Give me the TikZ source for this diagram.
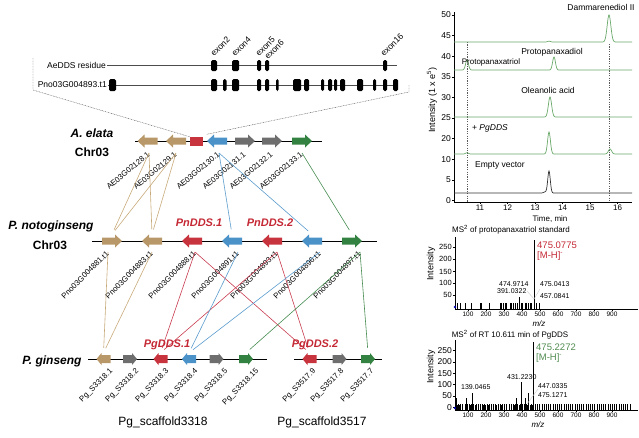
\documentclass[tikz,border=0pt]{standalone}
\usepackage{fontspec}
\setmainfont{Liberation Sans}
\usetikzlibrary{calc}

\definecolor{tanfill}{RGB}{184,152,104}
\definecolor{redfill}{RGB}{200,52,62}
\definecolor{bluefill}{RGB}{74,146,200}
\definecolor{grayfill}{RGB}{110,110,110}
\definecolor{greenfill}{RGB}{52,130,66}
\definecolor{tanlink}{RGB}{200,170,122}
\definecolor{bluelink}{RGB}{90,155,205}
\definecolor{redlink}{RGB}{200,60,80}
\definecolor{greenlink}{RGB}{70,140,80}
\definecolor{ddsred}{RGB}{196,40,52}
\definecolor{mhgreen}{RGB}{80,140,80}
\definecolor{trace}{RGB}{105,168,105}

\newcommand\fsz[1]{\fontsize{#1}{#1}\selectfont}
\newcommand\pk[3]{(#3)*exp(max(-8,-((\x-(#1))/(#2))^2))}

\begin{document}
\begin{tikzpicture}[x=1pt, y=-1pt,
    gene/.style={inner sep=0pt, minimum width=20pt, minimum height=13pt},
    rgene/.style={gene, path picture={\fill[#1, shift={(path picture bounding box.center)}]
        (-10,-3.5) -- (3,-3.5) -- (3,-6.5) -- (10,0) -- (3,6.5) -- (3,3.5) -- (-10,3.5) -- cycle;}},
    lgene/.style={gene, path picture={\fill[#1, shift={(path picture bounding box.center)}]
        (10,-3.5) -- (-3,-3.5) -- (-3,-6.5) -- (-10,0) -- (-3,6.5) -- (-3,3.5) -- (10,3.5) -- cycle;}},
    sgene/.style={inner sep=0pt, minimum width=14pt, minimum height=12pt},
    srgene/.style={sgene, path picture={\fill[#1, shift={(path picture bounding box.center)}]
        (-7,-4) -- (2,-4) -- (2,-6) -- (7,0) -- (2,6) -- (2,4) -- (-7,4) -- cycle;}},
    slgene/.style={sgene, path picture={\fill[#1, shift={(path picture bounding box.center)}]
        (7,-4) -- (-2,-4) -- (-2,-6) -- (-7,0) -- (-2,6) -- (-2,4) -- (7,4) -- cycle;}},
    glabel/.style={font=\fsz{7.8}, rotate=45, anchor=east, inner sep=0.5pt},
    species/.style={font=\fsz{12}\bfseries\itshape},
    chrname/.style={font=\fsz{12}\bfseries},
    ddsname/.style={font=\fsz{11}\bfseries\itshape, text=ddsred},
    chrom/.style={line width=0.8pt},
    link/.style={line width=0.6pt, shorten >=5pt},
    exon/.style={fill=black, rounded corners=1.5pt},
    bracket/.style={gray!60!black, dash pattern=on 0.8pt off 0.8pt},
    axisl/.style={line width=0.5pt},
    ytick/.style={left, inner sep=1pt, font=\fsz{7.5}},
    xtick/.style={below, inner sep=1pt, font=\fsz{6.5}},
    bar/.style={line width=0.55pt},
    note/.style={anchor=west, inner sep=0pt, font=\fsz{7}},
  ]
\useasboundingbox (0,0) rectangle (639,437);
% gene structure
\node[font=\fsz{8.5}, anchor=east, inner sep=1pt] (aedds) at (107,65) {AeDDS residue};
\draw[gray!60!black] (aedds.east) -- (397,65);
\node[font=\fsz{8.5}, anchor=east, inner sep=1pt] (pno) at (108,85) {Pno03G004893.t1};
\draw[gray!60!black] (pno.east) -- (398,85);
\foreach \a/\b in {211/217, 232/239, 257/261, 265/269, 383/387}
  \fill[exon] (\a,60) rectangle (\b,71);
\foreach \a/\b in {109/116, 211/217, 223/226.5, 232/239, 257/261, 265/269, 276/278.5,
    293/301, 304/309, 321/324, 328/332, 334/337, 340/345, 357/363, 373/376, 383/387, 393/398}
  \fill[exon] (\a,79) rectangle (\b,91);
\foreach \n/\x/\y in {2/212/55, 4/233/55, 5/257/55, 6/266/58, 16/382/55}
  \node[font=\fsz{8.5}, rotate=45, anchor=west, inner sep=0pt] at (\x,\y) {exon\n};

% A. elata
\node[species] at (92,133) {A. elata};
\node[chrname] at (92,152) {Chr03};
\draw[chrom] (135,141) -- (322,141);
\node[lgene=tanfill] (ae1) at (147.5,141) {};
\node[lgene=tanfill] (ae2) at (176,141) {};
\node[fill=redfill, inner sep=0pt, minimum width=13pt, minimum height=9pt] (ae3) at (196.5,141.5) {};
\node[lgene=bluefill] (ae4) at (217,141) {};
\node[rgene=grayfill] (ae5) at (245,141) {};
\node[rgene=grayfill] (ae6) at (272,141) {};
\node[rgene=greenfill] (ae7) at (302,141) {};
\foreach \g/\x/\t in {ae1/149/AE03G02128.1, ae2/176/AE03G02129.1, ae4/219/AE03G02130.1,
    ae5/245/AE03G02131.1, ae6/272/AE03G02132.1, ae7/302/AE03G02133.1}
  \node[glabel, rotate=-5] (t\g) at (\x,153) {\t};
\draw[bracket] (33,58) -- (33,90) -- (ae3.north west);
\draw[bracket] (409,85) -- (409,92) -- (ae4.north west);

% P. notoginseng
\node[species] at (51,226) {P. notoginseng};
\node[chrname] at (50,245) {Chr03};
\draw[chrom] (92,241) -- (377,241);
\node[rgene=tanfill] (pn1) at (112,241) {};
\node[lgene=tanfill] (pn2) at (152,241) {};
\node[lgene=redfill] (pn3) at (192,241) {};
\node[lgene=bluefill] (pn4) at (232,241) {};
\node[lgene=redfill] (pn5) at (272,241) {};
\node[lgene=bluefill] (pn6) at (312,241) {};
\node[rgene=greenfill] (pn7) at (352,241) {};
\node[ddsname] at (199,223) {PnDDS.1};
\node[ddsname] at (270,223) {PnDDS.2};
\foreach \g/\x/\t in {pn1/108/Pno03G004881.t1, pn2/152/Pno03G004883.t1, pn3/195/Pno03G004888.t1,
    pn4/238/Pno03G004891.t1, pn5/277/Pno03G004893.t1, pn6/320/Pno03G004896.t1, pn7/360/Pno03G004897.t1}
  \node[glabel] (t\g) at (\x,252) {\t};

% P. ginseng
\node[species] at (52,361) {P. ginseng};
\draw[chrom] (88,359) -- (267,359);
\draw[chrom] (294,359) -- (382,359);
\node[slgene=tanfill] (pg1) at (103.5,359) {};
\node[srgene=grayfill] (pg2) at (130,359) {};
\node[slgene=redfill] (pg3) at (160.5,359) {};
\node[slgene=bluefill] (pg4) at (189,359) {};
\node[srgene=grayfill] (pg5) at (216.5,359) {};
\node[srgene=greenfill] (pg6) at (246,359) {};
\node[slgene=redfill] (pg7) at (309.5,359) {};
\node[srgene=grayfill] (pg8) at (339.5,359) {};
\node[srgene=greenfill] (pg9) at (368,359) {};
\foreach \g/\x/\t in {pg1/112/Pg\_S3318.1, pg2/138/Pg\_S3318.2, pg3/168/Pg\_S3318.3,
    pg4/197/Pg\_S3318.4, pg5/227/Pg\_S3318.5, pg6/258/Pg\_S3318.15,
    pg7/315/Pg\_S3517.9, pg8/343/Pg\_S3517.8, pg9/373/Pg\_S3517.7}
  \node[glabel] (t\g) at (\x,370) {\t};
\node[font=\fsz{12}] at (163,422) {Pg\_scaffold3318};
\node[font=\fsz{12}] at (322,422) {Pg\_scaffold3517};

% synteny links
\draw[link, tanlink] (tae1.east) -- (pn1.north);
\draw[link, tanlink] (tae1.east) -- (pn2.north);
\draw[link, tanlink] (tae2.east) -- (pn1.north);
\draw[link, tanlink] (tae2.east) -- (pn2.north);
\draw[link, bluelink] (tae4.east) -- (pn4.north);
\draw[link, bluelink] (tae4.east) -- (pn6.north);
\draw[link, greenlink] (tae7.east) -- (pn7.north);
\draw[link, tanlink] (tpn1.east) -- (pg1.north);
\draw[link, tanlink] (tpn2.east) -- (pg1.north);
\draw[link, redlink] (tpn3.east) -- (pg3.north);
\draw[link, redlink] (tpn3.east) -- (pg7.north);
\draw[link, redlink] (tpn5.east) -- (pg3.north);
\draw[link, redlink] (tpn5.east) -- (pg7.north);
\draw[link, bluelink] (tpn4.east) -- (pg4.north);
\draw[link, bluelink] (tpn6.east) -- (pg4.north);
\draw[link, greenlink] (tpn7.east) -- (pg6.north);
\draw[link, greenlink] (tpn7.east) -- (pg9.north);
\node[ddsname] at (167,345) {PgDDS.1};
\node[ddsname] at (315,345) {PgDDS.2};

% chromatogram
\draw[axisl] (454,12) -- (454,202) -- (632,202);
\foreach \v [count=\i from 0] in {50,45,40,35,30,25,20,10,5,0}
  \draw[axisl] (454,{15+20.6*\i}) -- ++(-2,0) node[ytick, font=\fsz{8.5}] {\v};
\foreach \t in {11,...,16}
  \draw[axisl] ({452.5+27.5*(\t-10)},202) -- ++(0,2) node[xtick, font=\fsz{8}] {\t};
\node[font=\fsz{9}, rotate=90] at (432,100) {Intensity (1 x e\textsuperscript{5})};
\node[font=\fsz{8}] at (550,219) {Time, min};
\draw[gray!70!black, dash pattern=on 1.2pt off 1.2pt] (467,42) -- (467,202);
\draw[gray!70!black, dash pattern=on 1.2pt off 1.2pt] (609,44) -- (609,202);
\draw[trace, line width=0.7pt] plot[domain=454:632, samples=357] (\x,{42-\pk{609}{2.6}{27}-\pk{549}{2}{0.8}});
\draw[trace, line width=0.7pt] plot[domain=454:632, samples=357] (\x,{70-\pk{467}{2}{10}-\pk{554}{2}{13}});
\draw[trace, line width=0.7pt] plot[domain=454:632, samples=357] (\x,{117-\pk{550}{2.3}{20}});
\draw[trace, line width=0.7pt] plot[domain=454:632, samples=357] (\x,{154-\pk{467}{2}{1.2}-\pk{549}{2}{22}-\pk{610}{2.3}{5}});
\draw[black!80, line width=0.7pt] plot[domain=454:632, samples=357] (\x,{193-\pk{549}{1.8}{22}-\pk{545}{2}{1}});
\node[font=\fsz{8.5}] at (601,7) {Dammarenediol II};
\node[font=\fsz{8.5}] at (552,52) {Protopanaxadiol};
\node[font=\fsz{8}] at (491,62) {Protopanaxatriol};
\node[font=\fsz{8.5}] at (548,90) {Oleanolic acid};
\node[font=\fsz{8.5}] at (490,128) {+ \textit{PgDDS}};
\node[font=\fsz{8.5}] at (500,165) {Empty vector};

% MS2 spectrum 1
\node[font=\fsz{8}] at (511,230) {MS\textsuperscript{2} of protopanaxatriol standard};
\draw[axisl] (455,237) -- (455,309) -- (638,309);
\foreach \v/\y in {250/247,200/259.3,150/271.5,100/283.3,50/294.8}
  \draw[axisl] (455,\y) -- ++(-2,0) node[ytick] {\v};
\foreach \m in {1,...,9}
  \draw[axisl] ({450+18*\m},309) -- ++(0,2) node[xtick] {\m00};
\node[font=\fsz{9}, rotate=90] at (431,264) {Intensity};
\node[font=\fsz{8}\itshape] at (539,324) {m/z};
\foreach \x in {457.3,460.7,465,471.7,480,481.7,489.3,500,501.7,503.3,505,506.7,510,511.7,513.3,
    515,517.3,521,522.7,525,526.7,528.3,530,531.7,536.7,539.3}
  \draw[bar] (\x,309) -- (\x,303);
\draw[bar] (519,309) -- (519,297);
\draw[bar] (534.3,309) -- (534.3,240);
\draw[gray!40] (527,291) -- (534,299) -- (540,289);
\fill[blue!70!black] (455,307) circle (1.3);
\node[note, text=ddsred, font=\fsz{9.5}] at (537,245) {475.0775};
\node[note, text=ddsred, font=\fsz{9.5}] at (537,256) {[M-H]\textsuperscript{-}};
\node[note] at (499,284) {474.9714};
\node[note] at (497,291) {391.0322};
\node[note] at (540,284) {475.0413};
\node[note] at (540,296) {457.0841};

% MS2 spectrum 2
\node[font=\fsz{8}] at (510,335) {MS\textsuperscript{2} of RT 10.611 min of PgDDS};
\draw[axisl] (455,340) -- (455,410) -- (638,410);
\foreach \v/\y in {250/350.7,200/362,150/373.3,100/384.7,50/396,0/407.3}
  \draw[axisl] (455,\y) -- ++(-2,0) node[ytick, font=\fsz{8.5}] {\v};
\foreach \m in {1,...,9}
  \draw[axisl] ({450+18*\m},410) -- ++(0,2) node[xtick] {\m00};
\node[font=\fsz{9}, rotate=90] at (431,367) {Intensity};
\node[font=\fsz{8}\itshape] at (538,425) {m/z};
\foreach \x in {456,458.2,...,630}
  \draw[bar] (\x,410) -- (\x,404);
\foreach \x in {457,459.6,...,540}
  \draw[bar] (\x,410) -- (\x,405);
\foreach \x/\y in {456.7/398, 466.7/398, 472.3/393, 516.7/398, 521.7/382, 525/398, 528.3/393}
  \draw[bar] (\x,410) -- (\x,\y);
\draw[bar] (533.3,410) -- (533.3,342);
\draw[gray!40] (527,404) -- (538,389);
\fill[blue!70!black] (455,408) circle (1.3);
\node[note, text=mhgreen, font=\fsz{9.5}] at (536,347) {475.2272};
\node[note, text=mhgreen, font=\fsz{9.5}] at (536,358) {[M-H]\textsuperscript{-}};
\node[note] at (507,377) {431.2230};
\node[note] at (461,387) {139.0465};
\node[note] at (538,386) {447.0335};
\node[note] at (538,395) {475.1271};
\end{tikzpicture}
\end{document}
